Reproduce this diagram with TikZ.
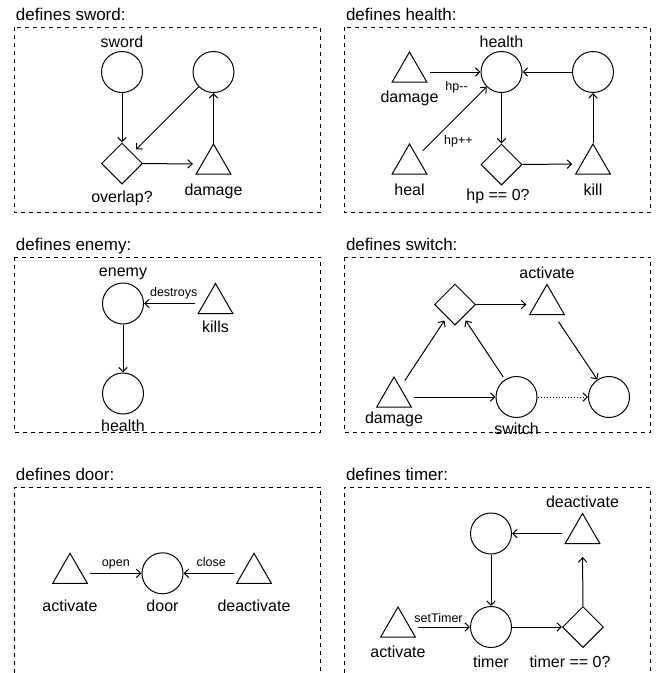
\documentclass[tikz,border=0pt]{standalone}
\usepackage{fontspec}
\setmainfont{Liberation Sans}
\usetikzlibrary{positioning, arrows.meta, shapes.geometric}

\newcommand{\titlefont}{\fontsize{17}{20}\selectfont}
\newcommand{\lblfont}{\fontsize{16}{19}\selectfont}
\newcommand{\edgefont}{\fontsize{12.5}{15}\selectfont}

\tikzset{
  ent/.style={circle, draw, minimum size=41pt, inner sep=0pt},
  evt/.style={regular polygon, regular polygon sides=3, draw, minimum size=40pt, inner sep=0pt},
  cond/.style={diamond, draw, minimum size=41pt, inner sep=0pt},
  panel/.style={draw, dash pattern=on 4pt off 4pt},
  title/.style={anchor=base west, inner sep=0pt, font=\titlefont},
  arr/.style={-{Straight Barb[length=4.5pt, width=8.5pt]}},
  edgelbl/.style={inner sep=0pt, text depth=0pt, font=\edgefont},
  fromtri/.style={shorten <=8pt},
  totri/.style={shorten >=8.5pt},
  every label/.style={inner sep=0pt, font=\lblfont},
}

\begin{document}
\begin{tikzpicture}[x=1pt, y=-1pt, on grid, line width=1pt]
    \useasboundingbox (0,0) rectangle (658,673);

    % Frames
    \node[title] (t-sword) at (15.5,20) {defines sword:};
    \node[title] (t-health) at (345.5,20) {defines health:};
    \node[title] (t-enemy) at (15.5,250) {defines enemy:};
    \node[title] (t-switch) at (345.5,250) {defines switch:};
    \node[title] (t-door) at (15.5,480) {defines door:};
    \node[title] (t-timerbox) at (345.5,480) {defines timer:};
    \draw[panel] (14.3,27.3) rectangle (320.7,212.3);
    \draw[panel] (344,27.3) rectangle (650.7,212.3);
    \draw[panel] (14.3,257.3) rectangle (320.7,432.5);
    \draw[panel] (344,257.3) rectangle (650.7,432.5);
    \draw[panel] (14.3,673) |- (320.7,487.3) -- (320.7,673);
    \draw[panel] (344,673) |- (650.7,487.3) -- (650.7,673);

    % Sword
    \node[ent, label={[label distance=2.5pt]above:sword}] (s-sword) at (122,72) {};
    \node[ent] (s-hit) [right=91.5pt of s-sword] {};
    \node[cond, label={[label distance=6pt]below:overlap?}] (s-ovl) [below=91.5pt of s-sword] {};
    \node[evt, label={[label distance=8.5pt]below:damage}] (s-dmg) [below=92pt of s-hit] {};

    \draw[arr] (s-sword) -- (s-ovl);
    \draw[arr, shorten >=5pt] (s-hit) -- (s-ovl);
    \draw[arr, totri] (s-ovl) -- (s-dmg);
    \draw[arr] (s-dmg) -- (s-hit);

    % Health
    \node[evt, label={[label distance=8pt]below:damage}] (h-dmg) at (409.5,72) {};
    \node[ent, label={[label distance=2.5pt]above:health}] (h-hp) [right=92pt of h-dmg] {};
    \node[ent] (h-dead) [right=91.5pt of h-hp] {};
    \node[evt, label={[label distance=8.5pt]below:heal}] (h-heal) [below=92pt of h-dmg] {};
    \node[cond, label={[label distance=3pt, xshift=-3.5pt]below:{hp == 0?}}] (h-zero) [below=92.5pt of h-hp] {};
    \node[evt, label={[label distance=8.5pt]below:kill}] (h-kill) [below=92pt of h-dead] {};

    \draw[arr, fromtri] (h-dmg) -- node[edgelbl, below=8.5pt, xshift=5.5pt] {hp-{}-} (h-hp);
    \draw[arr, fromtri] (h-heal) -- node[edgelbl, below=13pt, xshift=6.5pt] {hp++} (h-hp);
    \draw[arr] (h-hp) -- (h-zero);
    \draw[arr, totri] (h-zero) -- (h-kill);
    \draw[arr] (h-kill) -- (h-dead);
    \draw[arr] (h-dead) -- (h-hp);

    % Enemy
    \node[ent, label={[label distance=2.5pt]above:enemy}] (e-enemy) at (123,303.5) {};
    \node[evt, label={[label distance=6pt]below:kills}] (e-kill) [right=92.5pt of e-enemy] {};
    \node[ent, label={[label distance=5pt]below:health}] (e-health) [below=90pt of e-enemy] {};

    \draw[arr, fromtri] (e-kill) -- node[edgelbl, above=6.3pt] {destroys} (e-enemy);
    \draw[arr] (e-enemy) -- (e-health);

    % Switch
    \node[cond] (w-test) at (455,304.5) {};
    \node[evt, label={[label distance=4pt]above:activate}] (w-act) [right=92pt of w-test] {};
    \node[evt, label={[label distance=3.5pt]below:damage}] (w-dmg) at (394,397) {};
    \node[ent, label={[label distance=4.5pt]below:switch}] (w-sw) [right=122.5pt of w-dmg] {};
    \node[ent] (w-out) [right=92.5pt of w-sw] {};

    \draw[arr, totri] (w-test) -- (w-act);
    \draw[arr, fromtri, shorten >=4pt] (w-dmg) -- (w-test);
    \draw[arr, fromtri] (w-dmg) -- (w-sw);
    \draw[arr, shorten <=3pt, shorten >=4pt] (w-sw) -- (w-test);
    \draw[arr, fromtri] (w-act) -- (w-out);
    \draw[arr, dotted] (w-sw) -- (w-out);

    % Door
    \node[evt, label={[label distance=16pt]below:activate}] (d-act) at (70,573.3) {};
    \node[ent, label={[label distance=5pt]below:door}] (d-door) [right=92.5pt of d-act] {};
    \node[evt, label={[label distance=16pt]below:deactivate}] (d-deact) [right=91.5pt of d-door] {};

    \draw[arr, fromtri] (d-act) -- node[edgelbl, above=6.5pt, xshift=4pt] {open} (d-door);
    \draw[arr, fromtri] (d-deact) -- node[edgelbl, above=6.5pt, xshift=-1.5pt] {close} (d-door);

    % Timer
    \node[ent] (t-idle) at (491,533.5) {};
    \node[evt, label={[label distance=4.5pt]above:deactivate}] (t-deact) [right=91.5pt of t-idle] {};
    \node[ent, label={[label distance=7pt]below:timer}] (t-timer) [below=93.5pt of t-idle] {};
    \node[evt, label={[label distance=8pt]below:activate}] (t-act) [left=93pt of t-timer] {};
    \node[cond, label={[label distance=7pt, xshift=-13pt]below:{timer == 0?}}] (t-zero) [right=92pt of t-timer] {};

    \draw[arr, fromtri] (t-deact) -- (t-idle);
    \draw[arr] (t-idle) -- (t-timer);
    \draw[arr, fromtri] (t-act) -- node[edgelbl, above=4.3pt, xshift=-1.5pt] {setTimer} (t-timer);
    \draw[arr] (t-timer) -- (t-zero);
    \draw[arr, shorten >=13pt] (t-zero) -- (t-deact);
\end{tikzpicture}
\end{document}
